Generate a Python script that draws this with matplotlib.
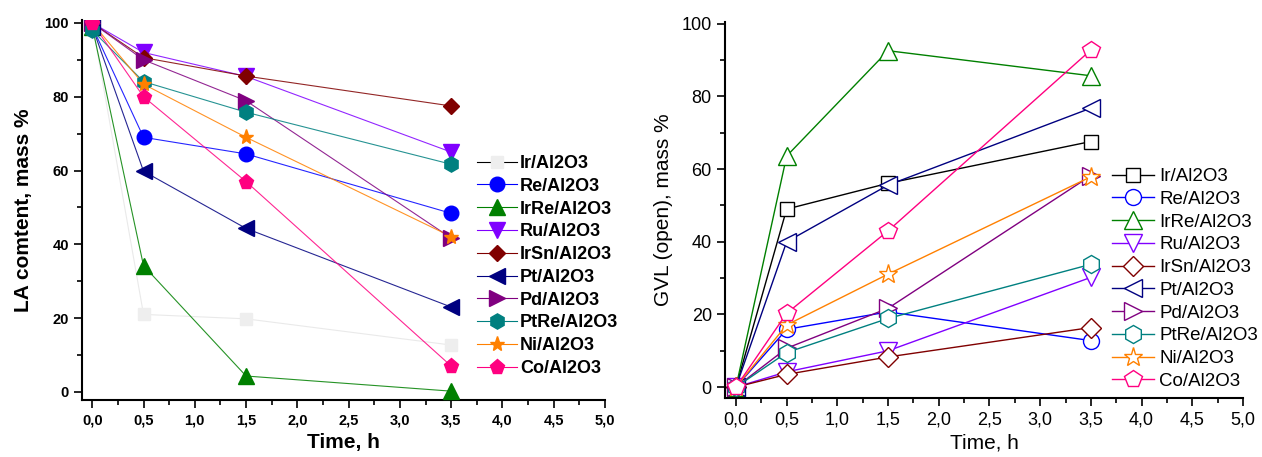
import matplotlib
matplotlib.use('Agg')
import matplotlib.pyplot as plt
from matplotlib.lines import Line2D
from matplotlib.ticker import MultipleLocator, FuncFormatter

plt.rcParams['font.family'] = ['Liberation Sans', 'DejaVu Sans']

time_h = [0.0, 0.5, 1.5, 3.5]
catalysts = ['Ir/Al2O3', 'Re/Al2O3', 'IrRe/Al2O3', 'Ru/Al2O3', 'IrSn/Al2O3',
             'Pt/Al2O3', 'Pd/Al2O3', 'PtRe/Al2O3', 'Ni/Al2O3', 'Co/Al2O3']

# LA content, mass %
la_ir = [100, 21, 19.8, 12.7]
la_re = [99, 69, 64.5, 48.4]
la_irre = [99, 34.2, 4.3, 0.2]
la_ru = [100, 92, 85.5, 65]
la_irsn = [100, 90.6, 85.6, 77.5]
la_pt = [99, 59.8, 44.3, 23]
la_pd = [100, 90, 78.9, 41.7]
la_ptre = [98, 84.1, 75.8, 61.7]
la_ni = [100, 83.4, 69, 42.1]
la_co = [100, 80, 57, 7]

# GVL (open), mass %
gvl_ir = [0, 49, 56.1, 67.6]
gvl_re = [0, 15.9, 20.7, 12.8]
gvl_irre = [0, 63.6, 92.6, 85.7]
gvl_ru = [0, 4.2, 10, 30.2]
gvl_irsn = [0, 3.5, 8.3, 16.4]
gvl_pt = [0, 40, 55.6, 76.8]
gvl_pd = [0, 10.7, 21.7, 58.2]
gvl_ptre = [0, 9.5, 18.9, 33.8]
gvl_ni = [0, 17.1, 31.1, 57.9]
gvl_co = [0, 20.3, 43, 92.8]

la_data = [la_ir, la_re, la_irre, la_ru, la_irsn, la_pt, la_pd, la_ptre, la_ni, la_co]
gvl_data = [gvl_ir, gvl_re, gvl_irre, gvl_ru, gvl_irsn, gvl_pt, gvl_pd, gvl_ptre, gvl_ni, gvl_co]

colors = ['#000000', '#0000ff', '#008000', '#8000ff', '#800000',
          '#000080', '#800080', '#008080', '#ff8000', '#ff0080']
markers = ['s', 'o', '^', 'v', 'D', '<', '>', 'h', '*', 'p']
msizes = [9, 10.5, 11, 11, 8, 11, 11, 11, 11, 11]      # filled markers, left
osizes = [9.5, 11.5, 13, 13, 10.5, 13, 13, 13, 14, 13]  # open markers, right

fig = plt.figure(figsize=(12.62, 4.57), dpi=100)
ax1 = fig.add_axes([82/1262, 1 - 400/457, (605 - 82)/1262, (400 - 20)/457])
ax2 = fig.add_axes([725/1262, 1 - 398/457, (1243 - 725)/1262, (398 - 22)/457])

comma = FuncFormatter(lambda v, p: ('%.1f' % v).replace('.', ','))

# left panel: filled markers
left_handles = []
for i, name in enumerate(catalysts):
    fc = '#eeeeee' if i == 0 else colors[i]
    lc = '#e6e6e6' if i == 0 else colors[i]
    ax1.plot(time_h, la_data[i], color=lc, lw=0.8, alpha=0.85, zorder=2)
    ax1.plot(time_h, la_data[i], ls='none', marker=markers[i], ms=msizes[i],
             mfc=fc, mec=fc, zorder=3)
    left_handles.append(Line2D([], [], color=colors[i], lw=0.8, marker=markers[i],
                               ms=msizes[i], mfc=fc, mec=fc))

# right panel: open markers
for i, name in enumerate(catalysts):
    ax2.plot(time_h, gvl_data[i], color=colors[i], lw=1.0, marker=markers[i],
             ms=osizes[i], mfc='white', mec=colors[i], mew=1.0, label=name)

for ax in (ax1, ax2):
    ax.spines['top'].set_visible(False)
    ax.spines['right'].set_visible(False)
    ax.spines['left'].set_linewidth(1.5)
    ax.spines['bottom'].set_linewidth(1.5)
    ax.xaxis.set_major_locator(MultipleLocator(0.5))
    ax.xaxis.set_minor_locator(MultipleLocator(0.25))
    ax.yaxis.set_major_locator(MultipleLocator(20))
    ax.yaxis.set_minor_locator(MultipleLocator(10))
    ax.xaxis.set_major_formatter(comma)
    ax.tick_params(which='major', direction='out', length=6, width=1.2)
    ax.tick_params(which='minor', direction='out', length=3.5, width=1.2)

ax1.set_xlim(-0.1, 5.0)
ax1.set_ylim(-2.2, 100.8)
ax2.set_xlim(-0.108, 5.0)
ax2.set_ylim(-3.0, 100.5)

for lab in ax1.get_xticklabels() + ax1.get_yticklabels():
    lab.set_fontweight('bold')
    lab.set_fontsize(10.5)
ax1.set_xlabel('Time, h', fontsize=15, fontweight='bold', labelpad=4)
ax1.set_ylabel('LA comtent, mass %', fontsize=15, fontweight='bold', labelpad=8)

ax2.tick_params(labelsize=13)
ax2.set_xlabel('Time, h', fontsize=15, labelpad=4)
ax2.set_ylabel('GVL (open), mass %', fontsize=15, labelpad=6)

fig.legend(handles=left_handles, labels=catalysts, loc='upper left',
           bbox_to_anchor=(477/1262, 1 - 155/457), frameon=False,
           prop={'weight': 'bold', 'size': 13}, handlelength=2.2,
           handletextpad=0.18, labelspacing=0.32, borderpad=0, borderaxespad=0)

fig.legend(*ax2.get_legend_handles_labels(), loc='upper left',
           bbox_to_anchor=(1112/1262, 1 - 168/457), frameon=False,
           prop={'size': 13.5}, handlelength=2.25, handletextpad=0.27,
           labelspacing=0.3, borderpad=0, borderaxespad=0)

fig.savefig('out.png', dpi=100)
